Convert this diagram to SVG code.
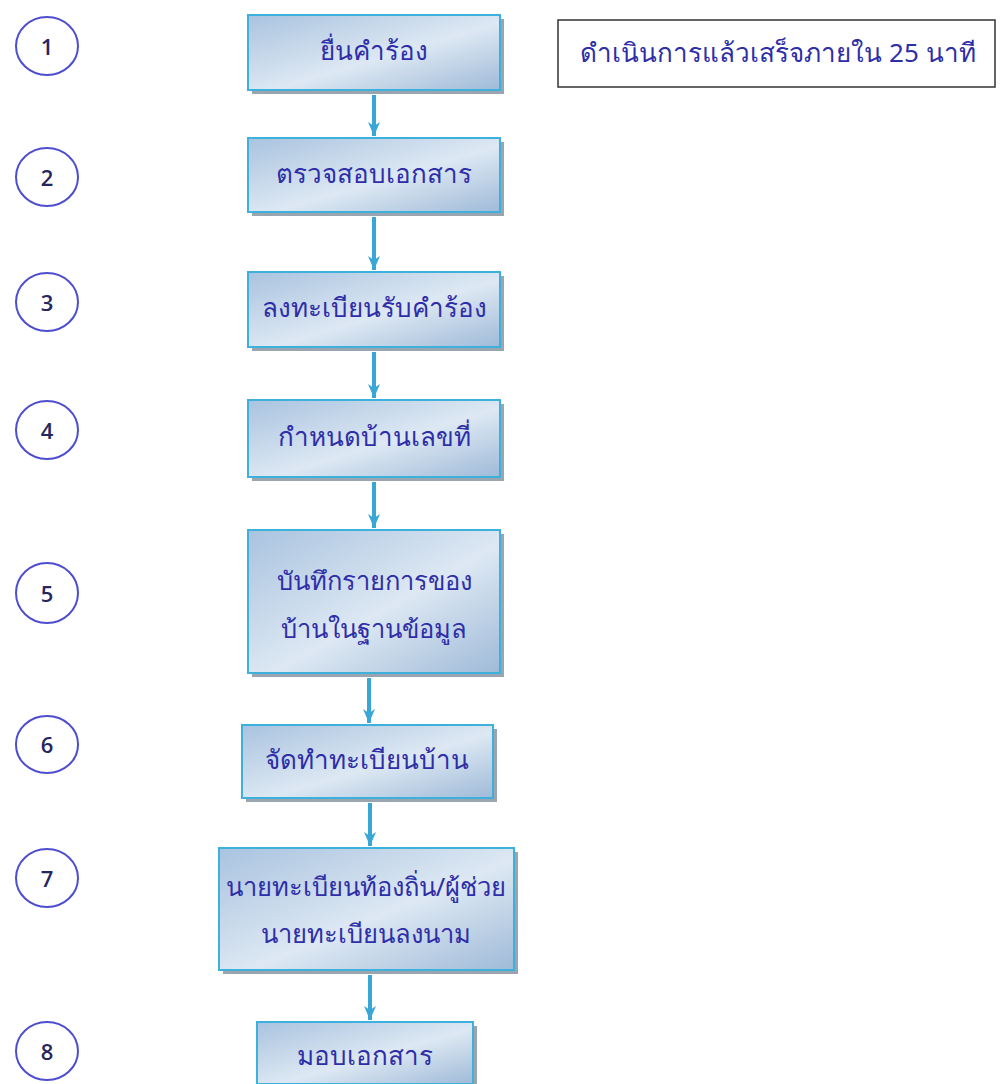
<svg xmlns="http://www.w3.org/2000/svg" width="1001" height="1084" viewBox="0 0 1001 1084">
<defs>
<linearGradient id="bg" x1="0" y1="0" x2="1" y2="1">
<stop offset="0" stop-color="#a9c3df"/>
<stop offset="0.55" stop-color="#dde8f3"/>
<stop offset="1" stop-color="#9fbad8"/>
</linearGradient>
<marker id="ah" viewBox="0 0 14 12" refX="14" refY="6" markerWidth="14" markerHeight="12" orient="auto" markerUnits="userSpaceOnUse">
<path d="M0,0 L14,6 L0,12 L4,6 Z" fill="#3aa6d6"/>
</marker>
</defs>
<style>
.box{fill:url(#bg);stroke:#3db0dc;stroke-width:2}
.sh{fill:#6f7f8f;opacity:0.7}
.lbl{font-family:"Noto Sans","DejaVu Sans",sans-serif;font-size:26px;fill:#2e2ea8;text-anchor:middle;dominant-baseline:central}
.num{fill:#ffffff;stroke:#4d4dd0;stroke-width:2}
.nt{font-family:"Open Sans","Liberation Sans",sans-serif;font-size:22px;font-weight:600;fill:#262660;text-anchor:middle;dominant-baseline:central}
.con{stroke:#3aa6d6;stroke-width:4;fill:none}
</style>
<rect width="1001" height="1084" fill="#ffffff"/>
<g id="n1"><rect class="num" x="16" y="17" width="62" height="58" rx="31" ry="29"/><text class="nt" x="47" y="46">1</text></g>
<g id="n2"><rect class="num" x="16" y="148" width="62" height="58" rx="31" ry="29"/><text class="nt" x="47" y="177">2</text></g>
<g id="n3"><rect class="num" x="16" y="273" width="62" height="58" rx="31" ry="29"/><text class="nt" x="47" y="302">3</text></g>
<g id="n4"><rect class="num" x="16" y="401" width="62" height="58" rx="31" ry="29"/><text class="nt" x="47" y="430">4</text></g>
<g id="n5"><rect class="num" x="16" y="563" width="62" height="60" rx="31" ry="30"/><text class="nt" x="47" y="593">5</text></g>
<g id="n6"><rect class="num" x="16" y="716" width="62" height="57" rx="31" ry="28"/><text class="nt" x="47" y="744">6</text></g>
<g id="n7"><rect class="num" x="16" y="849" width="62" height="58" rx="31" ry="29"/><text class="nt" x="47" y="878">7</text></g>
<g id="n8"><rect class="num" x="16" y="1022" width="62" height="58" rx="31" ry="29"/><text class="nt" x="47" y="1051">8</text></g>
<g id="note"><rect x="558" y="20" width="437" height="67" fill="#ffffff" stroke="#333333" stroke-width="1.5"/><text class="lbl" x="778" y="52" style="font-size:26px">ดำเนินการแล้วเสร็จภายใน 25 นาที</text></g>
<g id="s1"><rect class="sh" x="252" y="19" width="252" height="75"/><rect class="box" x="248" y="15" width="252" height="75"/><text class="lbl" x="374" y="50">ยื่นคำร้อง</text></g>
<g id="s2"><rect class="sh" x="252" y="142" width="252" height="74"/><rect class="box" x="248" y="138" width="252" height="74"/><text class="lbl" x="374" y="173">ตรวจสอบเอกสาร</text></g>
<g id="s3"><rect class="sh" x="252" y="276" width="252" height="75"/><rect class="box" x="248" y="272" width="252" height="75"/><text class="lbl" x="374" y="307">ลงทะเบียนรับคำร้อง</text></g>
<g id="s4"><rect class="sh" x="252" y="404" width="252" height="77"/><rect class="box" x="248" y="400" width="252" height="77"/><text class="lbl" x="374" y="436">กำหนดบ้านเลขที่</text></g>
<g id="s5"><rect class="sh" x="252" y="534" width="252" height="143"/><rect class="box" x="248" y="530" width="252" height="143"/><text class="lbl" x="374" y="580" style="font-size:25.5px">บันทึกรายการของ</text><text class="lbl" x="374" y="628" style="font-size:25.5px">บ้านในฐานข้อมูล</text></g>
<g id="s6"><rect class="sh" x="246" y="729" width="251" height="73"/><rect class="box" x="242" y="725" width="251" height="73"/><text class="lbl" x="367" y="759">จัดทำทะเบียนบ้าน</text></g>
<g id="s7"><rect class="sh" x="223" y="852" width="295" height="122"/><rect class="box" x="219" y="848" width="295" height="122"/><text class="lbl" x="366" y="886" style="font-size:25.5px">นายทะเบียนท้องถิ่น/ผู้ช่วย</text><text class="lbl" x="366" y="933" style="font-size:25.5px">นายทะเบียนลงนาม</text></g>
<g id="s8"><rect class="sh" x="261" y="1026" width="216" height="62"/><rect class="box" x="257" y="1022" width="216" height="62"/><text class="lbl" x="365" y="1055">มอบเอกสาร</text></g>
<g id="connectors">
<line class="con" x1="374" y1="95" x2="374" y2="136" marker-end="url(#ah)"/>
<line class="con" x1="374" y1="217" x2="374" y2="270" marker-end="url(#ah)"/>
<line class="con" x1="374" y1="352" x2="374" y2="398" marker-end="url(#ah)"/>
<line class="con" x1="374" y1="482" x2="374" y2="528" marker-end="url(#ah)"/>
<line class="con" x1="369" y1="678" x2="369" y2="723" marker-end="url(#ah)"/>
<line class="con" x1="370" y1="803" x2="370" y2="846" marker-end="url(#ah)"/>
<line class="con" x1="370" y1="975" x2="370" y2="1020" marker-end="url(#ah)"/>
</g>
</svg>
